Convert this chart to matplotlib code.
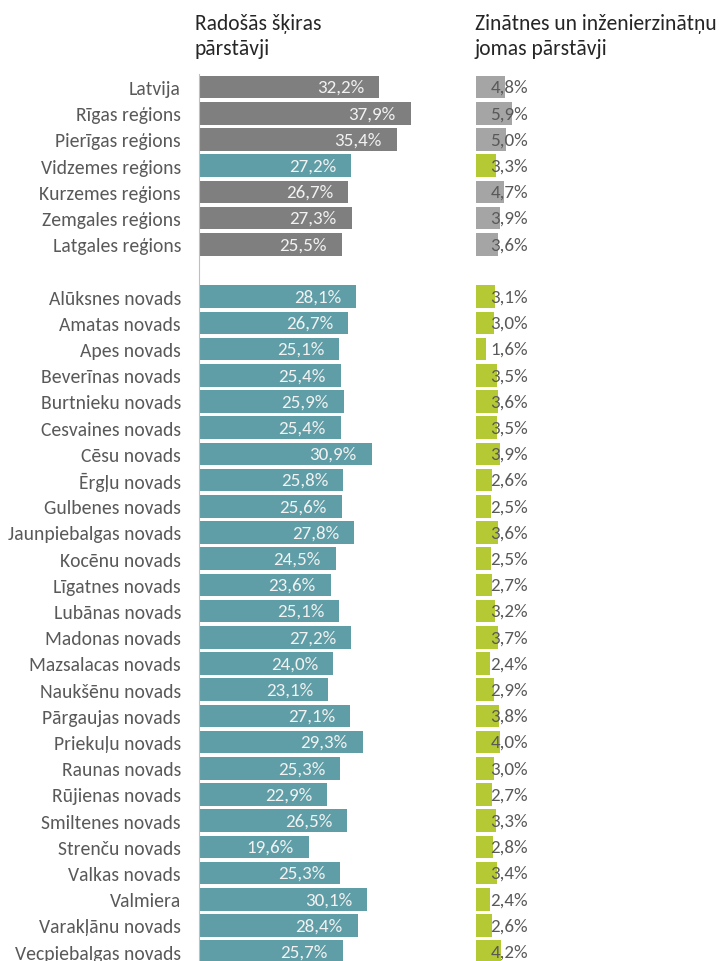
import matplotlib.pyplot as plt
from matplotlib import font_manager

# --- data -----------------------------------------------------------------
regions = ["Latvija", "Rīgas reģions", "Pierīgas reģions", "Vidzemes reģions",
           "Kurzemes reģions", "Zemgales reģions", "Latgales reģions"]
novadi = ["Alūksnes novads", "Amatas novads", "Apes novads", "Beverīnas novads",
          "Burtnieku novads", "Cesvaines novads", "Cēsu novads", "Ērgļu novads",
          "Gulbenes novads", "Jaunpiebalgas novads", "Kocēnu novads",
          "Līgatnes novads", "Lubānas novads", "Madonas novads",
          "Mazsalacas novads", "Naukšēnu novads", "Pārgaujas novads",
          "Priekuļu novads", "Raunas novads", "Rūjienas novads",
          "Smiltenes novads", "Strenču novads", "Valkas novads", "Valmiera",
          "Varakļānu novads", "Vecpiebalgas novads"]

radosa_reg = [32.2, 37.9, 35.4, 27.2, 26.7, 27.3, 25.5]
radosa_nov = [28.1, 26.7, 25.1, 25.4, 25.9, 25.4, 30.9, 25.8, 25.6, 27.8, 24.5,
              23.6, 25.1, 27.2, 24.0, 23.1, 27.1, 29.3, 25.3, 22.9, 26.5, 19.6,
              25.3, 30.1, 28.4, 25.7]
zinat_reg = [4.8, 5.9, 5.0, 3.3, 4.7, 3.9, 3.6]
zinat_nov = [3.1, 3.0, 1.6, 3.5, 3.6, 3.5, 3.9, 2.6, 2.5, 3.6, 2.5, 2.7, 3.2,
             3.7, 2.4, 2.9, 3.8, 4.0, 3.0, 2.7, 3.3, 2.8, 3.4, 2.4, 2.6, 4.2]

highlight = "Vidzemes reģions"
title_left = ["Radošās šķiras", "pārstāvji"]
title_right = ["Zinātnes un inženierzinātņu", "jomas pārstāvji"]

# --- styling --------------------------------------------------------------
installed = {f.name for f in font_manager.fontManager.ttflist}
fam = [f for f in ["Carlito", "Open Sans", "DejaVu Sans"] if f in installed]
plt.rcParams['font.family'] = fam
narrow = fam[0] == "Carlito"
# font sizes tuned so text widths match the reference
fs_cat = 14.1 if narrow else 12.2
fs_val = 13.7 if narrow else 12.8
fs_title = 15.5 if narrow else 12.0

W, H = 723, 962
fig = plt.figure(figsize=(W / 100, H / 100), dpi=100)

row_h = 26.2
top_px = 75.0
n_rows = len(regions) + 1 + len(novadi)
ax_top = 1 - top_px / H

ypos = list(range(len(regions))) + list(range(len(regions) + 1, n_rows))
cats = regions + novadi

def col(lbl, base, accent):
    if lbl in regions and lbl != highlight:
        return base
    return accent

ylim = ((H - top_px) / row_h - 0.5, -0.5)

# left panel
px_l = 5.59
axL = fig.add_axes([199 / W, 0, 45 * px_l / W, ax_top])
vals_l = radosa_reg + radosa_nov
axL.barh(ypos, vals_l, height=0.87,
         color=[col(c, "#7f7f7f", "#5f9ea7") for c in cats])
for y, v in zip(ypos, vals_l):
    axL.text(v - 2.7, y, f"{v:.1f}%".replace(".", ","), ha="right", va="center",
             color="#f2f2f2", fontsize=fs_val)
axL.set_xlim(0, 45)
axL.set_ylim(ylim)
axL.set_yticks(ypos)
axL.set_yticklabels(cats, fontsize=fs_cat, color="#595959")
axL.tick_params(axis="y", length=0, pad=13)
axL.set_xticks([])
for s in ["top", "right", "bottom"]:
    axL.spines[s].set_visible(False)
axL.spines["left"].set_color("#bfbfbf")

# right panel
px_r = 6.04
axR = fig.add_axes([476 / W, 0, 40 * px_r / W, ax_top])
vals_r = zinat_reg + zinat_nov
axR.barh(ypos, vals_r, height=0.87,
         color=[col(c, "#a5a5a5", "#b5c935") for c in cats])
for y, v in zip(ypos, vals_r):
    axR.text(8.6, y, f"{v:.1f}%".replace(".", ","), ha="right", va="center",
             color="#595959", fontsize=fs_val)
axR.set_xlim(0, 40)
axR.set_ylim(ylim)
axR.axis("off")

# titles, two lines each, placed on their baselines
for x0, lines in [(195, title_left), (475, title_right)]:
    for base, line in zip([30, 55], lines):
        fig.text(x0 / W, 1 - base / H, line, ha="left", va="baseline",
                 fontsize=fs_title, color="#262626")

fig.savefig("out.png", dpi=100)
